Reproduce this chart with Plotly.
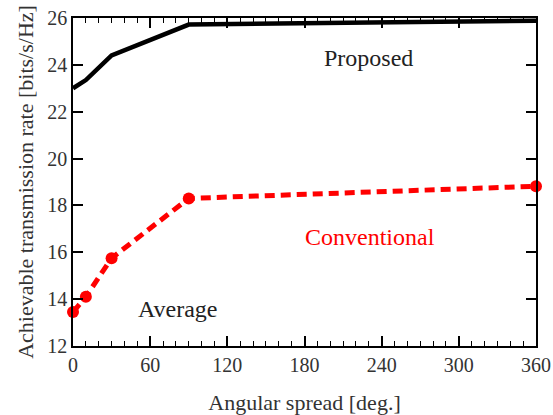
import plotly.graph_objects as go

# Angular spread [deg.] and achievable rates [bits/s/Hz]
spread = [0, 10, 30, 90, 360]
proposed = [23.0, 23.35, 24.4, 25.72, 25.88]
conventional = [13.45, 14.1, 15.75, 18.3, 18.82]

x_ticks = [0, 60, 120, 180, 240, 300, 360]
y_ticks = [12, 14, 16, 18, 20, 22, 24, 26]

serif = "Liberation Serif, Times New Roman, serif"

fig = go.Figure()
fig.add_trace(go.Scatter(
    x=spread, y=proposed, mode="lines",
    line=dict(color="black", width=4.5),
    showlegend=False, cliponaxis=False))
fig.add_trace(go.Scatter(
    x=spread, y=conventional, mode="lines+markers",
    line=dict(color="#ff0000", width=5, dash="10px,6px"),
    marker=dict(color="#ff0000", size=12),
    showlegend=False, cliponaxis=False))

fig.add_annotation(x=230, y=24.3, text="Proposed", showarrow=False,
                   font=dict(family=serif, size=24, color="#222"))
fig.add_annotation(x=231, y=16.65, text="Conventional", showarrow=False,
                   font=dict(family=serif, size=24, color="#ff0000"))
fig.add_annotation(x=81.5, y=13.6, text="Average", showarrow=False,
                   font=dict(family=serif, size=24, color="#222"))

axis_common = dict(
    showgrid=False, zeroline=False, showline=True, linecolor="black",
    linewidth=1.5, mirror="ticks", ticks="inside", tickcolor="black",
    tickwidth=1.5, ticklen=10, automargin=False,
    tickfont=dict(family=serif, size=20, color="#333"),
)

fig.update_xaxes(
    range=[0, 360], tickvals=x_ticks,
    minor=dict(dtick=10, ticks="inside", ticklen=5, tickcolor="black", tickwidth=1.2),
    title=dict(text="Angular spread [deg.]", font=dict(family=serif, size=22, color="#333"),
               standoff=20),
    **axis_common)
fig.update_yaxes(
    range=[12, 26], tickvals=y_ticks,
    title=dict(text="Achievable transmission rate [bits/s/Hz]",
               font=dict(family=serif, size=22, color="#333"), standoff=8),
    **axis_common)

fig.update_layout(
    width=553, height=415,
    margin=dict(l=73, r=17, t=18, b=69),
    plot_bgcolor="white", paper_bgcolor="white",
)

fig.write_html("out.html")
